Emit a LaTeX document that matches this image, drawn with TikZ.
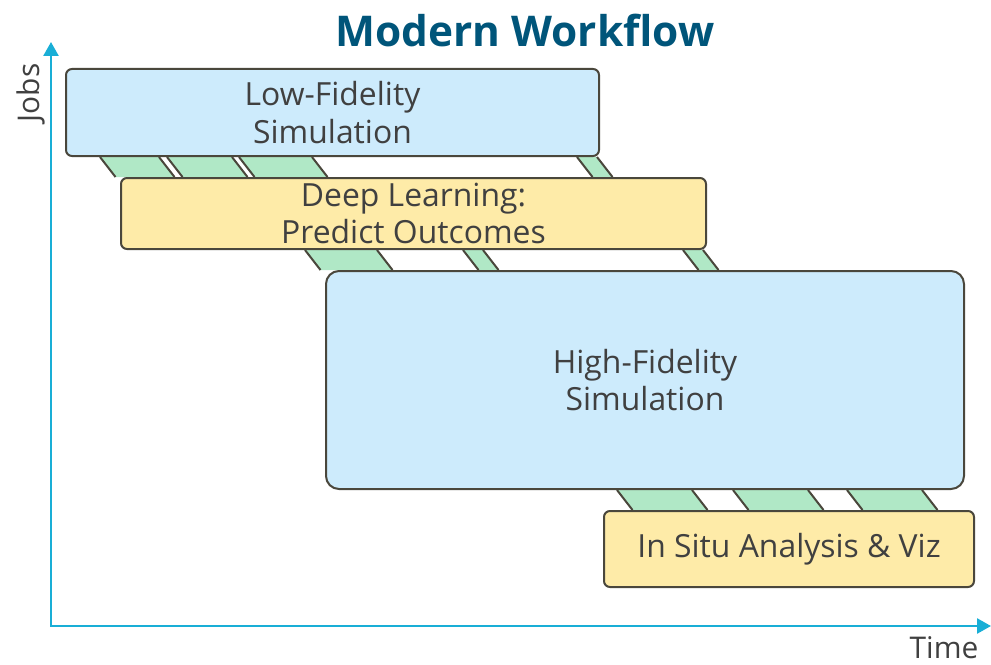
\documentclass[tikz,border=0pt]{standalone}
\usepackage{fontspec}
\setmainfont{Open Sans}
\usetikzlibrary{arrows.meta,calc}
\definecolor{boxblue}{HTML}{CDEBFC}
\definecolor{boxyellow}{HTML}{FEEBA8}
\definecolor{bandgreen}{HTML}{B0E8C6}
\definecolor{edgegray}{HTML}{4A473C}
\definecolor{axiscyan}{HTML}{19AED6}
\definecolor{titleblue}{HTML}{00557A}
\definecolor{txtgray}{HTML}{404040}
\newcommand\wfband[4]{%
  \fill[bandfill] (#3,0 |- #1.south) -- (#4,0 |- #1.south)
    -- ($(#4,0 |- #2.north)+(15.5,0)$) -- ($(#3,0 |- #2.north)+(15.5,0)$) -- cycle;
  \draw[bandline] (#3,0 |- #1.south) -- ($(#3,0 |- #2.north)+(15.5,0)$);
  \draw[bandline] (#4,0 |- #1.south) -- ($(#4,0 |- #2.north)+(15.5,0)$);
}
\begin{document}
\begin{tikzpicture}[x=1bp,y=-1bp,
  jobbox/.style={draw=edgegray, line width=2bp, rounded corners=6bp, anchor=north west,
    inner sep=0pt, align=center, text=txtgray, font=\fontsize{32}{38}\selectfont},
  bluebox/.style={jobbox, fill=boxblue},
  yellowbox/.style={jobbox, fill=boxyellow},
  bandfill/.style={fill=bandgreen},
  bandline/.style={draw=edgegray, line width=2bp},
  axis/.style={draw=axiscyan, line width=2.6bp,
    {Triangle[length=14bp,width=15bp]}-{Triangle[length=14bp,width=15bp]}},
  axislabel/.style={text=txtgray, font=\fontsize{30}{34}\selectfont, inner sep=0pt}]
\useasboundingbox (0,0) rectangle (991,665);

% box frames used as anchors for the bands
\path (65,68) node[bluebox, minimum width=533bp, minimum height=87bp, draw=none, fill=none] (lf) {};
\path (120,177) node[yellowbox, minimum width=585bp, minimum height=71bp, draw=none, fill=none] (dl) {};
\path (325,270) node[bluebox, rounded corners=13bp, minimum width=638bp, minimum height=218bp, draw=none, fill=none] (hf) {};
\path (603,510) node[yellowbox, minimum width=370bp, minimum height=76bp, draw=none, fill=none] (is) {};

% bands between boxes
\wfband{lf}{dl}{100}{159}
\wfband{lf}{dl}{167}{232}
\wfband{lf}{dl}{239}{312}
\wfband{lf}{dl}{577}{597}
\wfband{dl}{hf}{305}{377}
\wfband{dl}{hf}{463}{483}
\wfband{dl}{hf}{683}{703}
\wfband{hf}{is}{617}{692}
\wfband{hf}{is}{733}{808}
\wfband{hf}{is}{847}{922}

% visible boxes
\node[bluebox, minimum width=533bp, minimum height=87bp] (lfbox) at (lf.north west) {Low-Fidelity\\Simulation};
\node[yellowbox, minimum width=585bp, minimum height=71bp] (dlbox) at (dl.north west) {Deep Learning:\\Predict Outcomes};
\node[bluebox, rounded corners=13bp, minimum width=638bp, minimum height=218bp] (hfbox) at (hf.north west) {High-Fidelity\\Simulation};
\node[yellowbox, minimum width=370bp, minimum height=76bp] (isbox) at (is.north west) {In Situ Analysis \& Viz};

% title
\node[text=titleblue, font=\bfseries\fontsize{42.5}{50}\selectfont] (title) at (525,31) {Modern Workflow};

% axes
\coordinate (origin) at (51,626);
\coordinate (ytip) at (51,42);
\coordinate (xtip) at (991,626);
\draw[axis] (ytip) -- (origin) -- (xtip);
\node[axislabel, rotate=90] (jobs) at (31,93) {Jobs};
\node[axislabel] (time) at (944,648) {Time};
\end{tikzpicture}
\end{document}
